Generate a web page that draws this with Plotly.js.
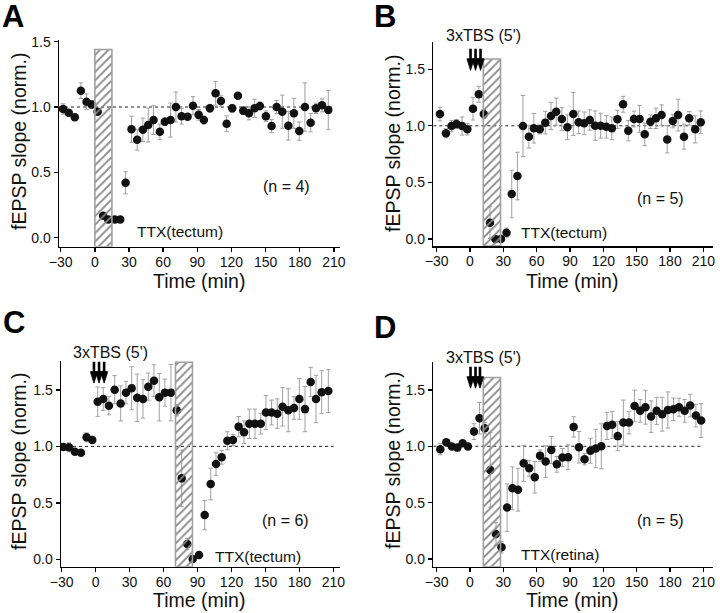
<!DOCTYPE html>
<html><head><meta charset="utf-8">
<script src="https://cdn.plot.ly/plotly-3.0.1.min.js"></script>
<style>html,body{margin:0;padding:0;background:#fff}</style>
</head><body><div id="chart" style="width:720px;height:613px"></div>
<script>
// ---------- data ----------
const timeA = [-27.9,-22.9,-17.6,-12.3,-7.3,-2.9,2.4,7.3,11.7,17.6,22.3,27,32.2,37.2,42.2,46.9,51.6,57.1,61.5,66.5,71.2,76.2,81.5,86.2,91.2,95.8,101.1,106.1,110.8,115.8,120.7,125.7,130.4,135.4,140.4,145,150.3,155.3,159.7,164.7,170,174.9,179.6,184.6,189.6,194.3,199.6,205.1];
const slopeA = [0.985,0.957,0.921,1.125,1.04,1.02,0.964,0.168,0.14,0.14,0.14,0.42,0.83,0.75,0.826,0.862,0.90,0.81,0.888,0.90,1.0,0.93,0.926,1.01,0.94,0.90,0.99,1.105,1.046,0.872,0.99,1.087,0.972,0.952,0.99,1.008,0.93,0.855,1.0,0.964,0.857,0.952,0.816,1.0,0.88,0.99,1.013,0.977];
const semA = [0.04,0.02,0.01,0.06,0.06,0.03,0.02,0.01,0.01,0.01,0.01,0.085,0.1,0.08,0.09,0.13,0.11,0.06,0.03,0.13,0.115,0.06,0.02,0.07,0.04,0.03,0.03,0.09,0.04,0.06,0.03,0.02,0.03,0.05,0.07,0.03,0.04,0.05,0.05,0.127,0.11,0.115,0.07,0.185,0.07,0.04,0.05,0.15];

const timeB = [-27,-21.6,-16.6,-12.2,-7.1,-2.4,2.7,8,12.4,18,22.8,27.9,32.9,37.6,42.7,47.7,53,57.5,62.8,67.8,72.9,77.6,82.7,87.7,93,97.8,102.8,107.8,112.6,117.6,122.7,127.7,132.7,137.8,142.5,147.6,152.6,157.3,162.4,167.4,172.4,177.5,182.5,187.3,192.6,197.3,202.7,207.7];
const slopeB = [1.104,0.934,0.998,1.016,0.998,0.969,1.151,1.278,1.104,0.144,0.0,0.0,0.056,0.397,0.556,0.998,0.904,0.978,0.969,1.028,1.087,1.125,1.06,0.987,1.104,1.031,1.022,1.051,1.001,1.001,0.992,0.978,1.057,1.19,0.957,1.06,1.06,0.925,1.036,1.066,1.095,0.88,1.042,1.095,0.904,1.066,0.969,1.031];
const semB = [0.06,0.04,0.05,0.04,0.08,0.05,0.1,0.07,0.04,0.14,0.02,0.02,0.04,0.21,0.21,0.27,0.1,0.13,0.04,0.1,0.12,0.12,0.1,0.11,0.19,0.1,0.1,0.09,0.13,0.11,0.1,0.1,0.08,0.07,0.09,0.07,0.12,0.1,0.06,0.09,0.09,0.12,0.06,0.14,0.11,0.06,0.12,0.1];

const timeC = [-28.6,-23.6,-18.3,-13,-8,-3,1.8,6.7,11.7,16.8,22.1,26.8,31.8,36.7,41.8,46.5,51.5,56.2,61.2,66.5,71.6,76,80.9,85.7,91.3,96.3,101.6,106.3,111.3,116.3,121.3,126.3,131,135.7,140.7,145.8,150.4,155.4,160.4,165.1,170.1,175.2,179.9,184.9,189.9,194.6,199.6,205.5];
const slopeC = [0.995,0.992,0.953,0.944,1.08,1.057,1.396,1.42,1.36,1.502,1.38,1.476,1.515,1.43,1.42,1.529,1.582,1.435,1.476,1.476,1.32,0.717,0.136,0.003,0.038,0.392,0.667,0.844,0.903,1.05,1.057,1.175,1.125,1.2,1.2,1.2,1.30,1.30,1.29,1.35,1.32,1.34,1.42,1.33,1.57,1.42,1.48,1.49];
const semC = [0.03,0.04,0.02,0.02,0.04,0.03,0.13,0.1,0.08,0.125,0.155,0.1,0.19,0.21,0.17,0.12,0.14,0.21,0.12,0.25,0.05,0.25,0.05,0.01,0.02,0.13,0.14,0.1,0.06,0.08,0.05,0.09,0.1,0.13,0.13,0.09,0.15,0.11,0.13,0.17,0.19,0.1,0.18,0.2,0.13,0.21,0.19,0.19];

const timeD = [-26.7,-21.3,-16.3,-11.3,-6.6,-1.8,3.6,8.6,13.3,18.3,23.4,28.4,33.4,38.2,43.2,48.3,53.3,58.3,63.1,68.1,73.2,78.2,83.2,88.3,93.3,98.1,103.1,108.4,113.2,118.2,123.3,128,133,138,143.1,148.1,153.2,157.9,163,168,173,178.1,183.1,188.1,193.2,198.2,203.3,208];
const slopeD = [0.974,1.035,0.997,0.988,1.027,0.997,1.13,1.249,1.16,0.79,0.222,0.104,0.456,0.627,0.615,0.849,0.805,0.725,0.917,0.864,0.967,0.84,0.9,0.903,1.172,0.991,0.885,0.96,0.98,1.0,1.18,1.19,1.09,1.21,1.21,1.358,1.314,1.346,1.263,1.314,1.284,1.322,1.328,1.346,1.314,1.361,1.272,1.228];
const semD = [0.05,0.02,0.02,0.02,0.02,0.02,0.07,0.14,0.05,0.33,0.1,0.05,0.21,0.19,0.19,0.16,0.07,0.14,0.05,0.14,0.12,0.07,0.08,0.11,0.09,0.14,0.05,0.11,0.17,0.2,0.12,0.12,0.13,0.2,0.1,0.14,0.1,0.15,0.14,0.12,0.15,0.16,0.1,0.08,0.1,0.1,0.1,0.15];

// TTX application windows (min) and the drawn height of the hatched bar
const ttxStart = [0, 12, 70.5, 12];
const ttxEnd = [15, 27.5, 85.5, 27.5];
const ttxHeight = [1.44, 1.59, 1.745, 1.61];
const ttxLabels = ['TTX(tectum)', 'TTX(tectum)', 'TTX(tectum)', 'TTX(retina)'];
const nLabels = ['(n = 4)', '(n = 5)', '(n = 6)', '(n = 5)'];
const panelLetters = ['A', 'B', 'C', 'D'];
// TBS stimulation times (min) for panels B, C, D
const tbsTimes = [[], [0.5, 5, 9.5], [-1.5, 3, 7.5], [0.5, 5, 9]];
const tbsLabel = "3xTBS (5')";
const baseline = 1.0;
const baselineEnd = 210;
const xTicks = [-30, 0, 30, 60, 90, 120, 150, 180, 210];
const yTicks = [0, 0.5, 1.0, 1.5];
const xTitle = 'Time (min)';
const yTitle = 'fEPSP slope (norm.)';

// ---------- layout geometry ----------
const W = 720, H = 613;
const FONT = 'Liberation Sans, Arial, Helvetica, sans-serif';
const geo = [
  {xd:[59,340],    yd:[40,246.7],    xr:[-31.5,215.4], yr:[-0.069,1.513], letter:[13,16],  tbs:null,        xt:[199,281],   yt:[19,142],  arrowTip:null,  nPos:[168,0.39],   ttxPos:[35.2,0.044]},
  {xd:[433.3,713], yd:[41.7,246],    xr:[-33,218.7],   yr:[-0.062,1.743], letter:[385,16], tbs:[483.7,36],   xt:[571.7,281], yt:[393,143], arrowTip:1.49,  nPos:[171.3,0.36], ttxPos:[44.2,0.059]},
  {xd:[61,340],    yd:[361,566.7],   xr:[-30.6,215.8], yr:[-0.065,1.756], letter:[14,322], tbs:[110,352.5],  xt:[199,600],   yt:[19,462],  arrowTip:1.56,  nPos:[168,0.348],  ttxPos:[103.9,0.023]},
  {xd:[433.3,713], yd:[361.7,566.7], xr:[-33,218.7],   yr:[-0.068,1.75],  letter:[385,327],tbs:[483.7,357],  xt:[571.7,600], yt:[393,460], arrowTip:1.515, nPos:[171.6,0.346], ttxPos:[44.3,0.036]}
];
// arrow glyph size in pixels
const ARROW = {headH:11.5, headHalfW:3.6, shaftH:10, shaftW:2.6};
const series = [[timeA,slopeA,semA],[timeB,slopeB,semB],[timeC,slopeC,semC],[timeD,slopeD,semD]];

const data = [], shapes = [], annotations = [];
const layout = {
  width: W, height: H, margin:{l:0,r:0,t:0,b:0},
  paper_bgcolor:'#fff', plot_bgcolor:'rgba(0,0,0,0)',
  showlegend:false, font:{family:FONT, color:'#111'}
};

geo.forEach((g, i) => {
  const s = i === 0 ? '' : String(i + 1);
  const xa = 'x' + s, ya = 'y' + s;
  layout['xaxis' + s] = {
    domain:[g.xd[0]/W, g.xd[1]/W], range:g.xr, anchor:ya,
    tickvals:xTicks, ticks:'outside', ticklen:4, tickwidth:1.3, tickcolor:'#000',
    ticklabelstandoff:-2,
    showline:true, linewidth:1.5, linecolor:'#000', showgrid:false, zeroline:false,
    tickfont:{size:14, color:'#111', family:FONT}, fixedrange:true
  };
  layout['yaxis' + s] = {
    domain:[1 - g.yd[1]/H, 1 - g.yd[0]/H], range:g.yr, anchor:xa,
    tickvals:yTicks, tickformat:'.1f', ticks:'outside', ticklen:4, tickwidth:1.3, tickcolor:'#000',
    showline:true, linewidth:1.5, linecolor:'#000', showgrid:false, zeroline:false,
    tickfont:{size:14, color:'#111', family:FONT}, fixedrange:true
  };
  const [t, v, e] = series[i];
  data.push({
    type:'scatter', mode:'markers', x:t, y:v, xaxis:xa, yaxis:ya,
    marker:{color:'#111', size:8.5},
    error_y:{type:'data', array:e, visible:true, color:'#a0a0a0', thickness:1, width:2.2},
    hoverinfo:'x+y'
  });
  // hatched TTX bar, drawn above the markers
  const a = ttxStart[i], b = ttxEnd[i], top = ttxHeight[i], bot = g.yr[0];
  data.push({
    type:'scatter', mode:'lines', x:[a,a,b,b,a], y:[bot,top,top,bot,bot], xaxis:xa, yaxis:ya,
    fill:'toself', fillcolor:'rgba(0,0,0,0)',
    fillpattern:{shape:'/', size:6, solidity:0.3, fgcolor:'#858585', bgcolor:'rgba(0,0,0,0)', fillmode:'replace'},
    line:{color:'#a0a0a0', width:1.6}, hoverinfo:'skip'
  });
  // TBS arrows (three downward arrows), built from the TBS times
  if (tbsTimes[i].length) {
    const pxPerX = (g.xd[1]-g.xd[0]) / (g.xr[1]-g.xr[0]);
    const pxPerY = (g.yd[1]-g.yd[0]) / (g.yr[1]-g.yr[0]);
    const hw = ARROW.headHalfW / pxPerX, hh = ARROW.headH / pxPerY, sh = ARROW.shaftH / pxPerY;
    const hx = [], hy = [], sx = [], sy = [];
    tbsTimes[i].forEach(tt => {
      const tip = g.arrowTip;
      hx.push(tt-hw, tt+hw, tt, tt-hw, null); hy.push(tip+hh, tip+hh, tip, tip+hh, null);
      sx.push(tt, tt, null); sy.push(tip+hh*0.8, tip+hh+sh, null);
    });
    data.push({type:'scatter', mode:'lines', x:sx, y:sy, xaxis:xa, yaxis:ya, cliponaxis:false,
      line:{color:'#000', width:ARROW.shaftW}, hoverinfo:'skip'});
    data.push({type:'scatter', mode:'lines', x:hx, y:hy, xaxis:xa, yaxis:ya, cliponaxis:false,
      fill:'toself', fillcolor:'#000', line:{color:'#000', width:0.8}, hoverinfo:'skip'});
  }
  shapes.push({type:'line', xref:xa, yref:ya, x0:g.xr[0], x1:baselineEnd, y0:baseline, y1:baseline,
    line:{color:'#222', width:1, dash:'dot'}, layer:'below'});
  // text
  annotations.push({xref:'paper', yref:'paper', x:g.letter[0]/W, y:1 - g.letter[1]/H, xanchor:'center', yanchor:'middle',
    text:'<b>' + panelLetters[i] + '</b>', showarrow:false, font:{size:31, color:'#000', family:FONT}});
  annotations.push({xref:'paper', yref:'paper', x:g.xt[0]/W, y:1 - g.xt[1]/H, xanchor:'center', yanchor:'middle',
    text:xTitle, showarrow:false, font:{size:19.5, color:'#111', family:FONT}});
  annotations.push({xref:'paper', yref:'paper', x:g.yt[0]/W, y:1 - g.yt[1]/H, xanchor:'center', yanchor:'middle',
    text:yTitle, textangle:-90, showarrow:false, font:{size:19.5, color:'#111', family:FONT}});
  annotations.push({xref:xa, yref:ya, x:g.nPos[0], y:g.nPos[1], xanchor:'center', yanchor:'middle',
    text:nLabels[i], showarrow:false, font:{size:16, color:'#111', family:FONT}});
  annotations.push({xref:xa, yref:ya, x:g.ttxPos[0], y:g.ttxPos[1], xanchor:'left', yanchor:'middle',
    text:ttxLabels[i], showarrow:false, font:{size:15.5, color:'#111', family:FONT}});
  if (g.tbs) {
    annotations.push({xref:'paper', yref:'paper', x:g.tbs[0]/W, y:1 - g.tbs[1]/H, xanchor:'center', yanchor:'middle',
      text:tbsLabel, showarrow:false, font:{size:16, color:'#111', family:FONT}});
  }
});
layout.shapes = shapes;
layout.annotations = annotations;
Plotly.newPlot('chart', data, layout, {displayModeBar:false, staticPlot:true});
</script>
</body></html>
